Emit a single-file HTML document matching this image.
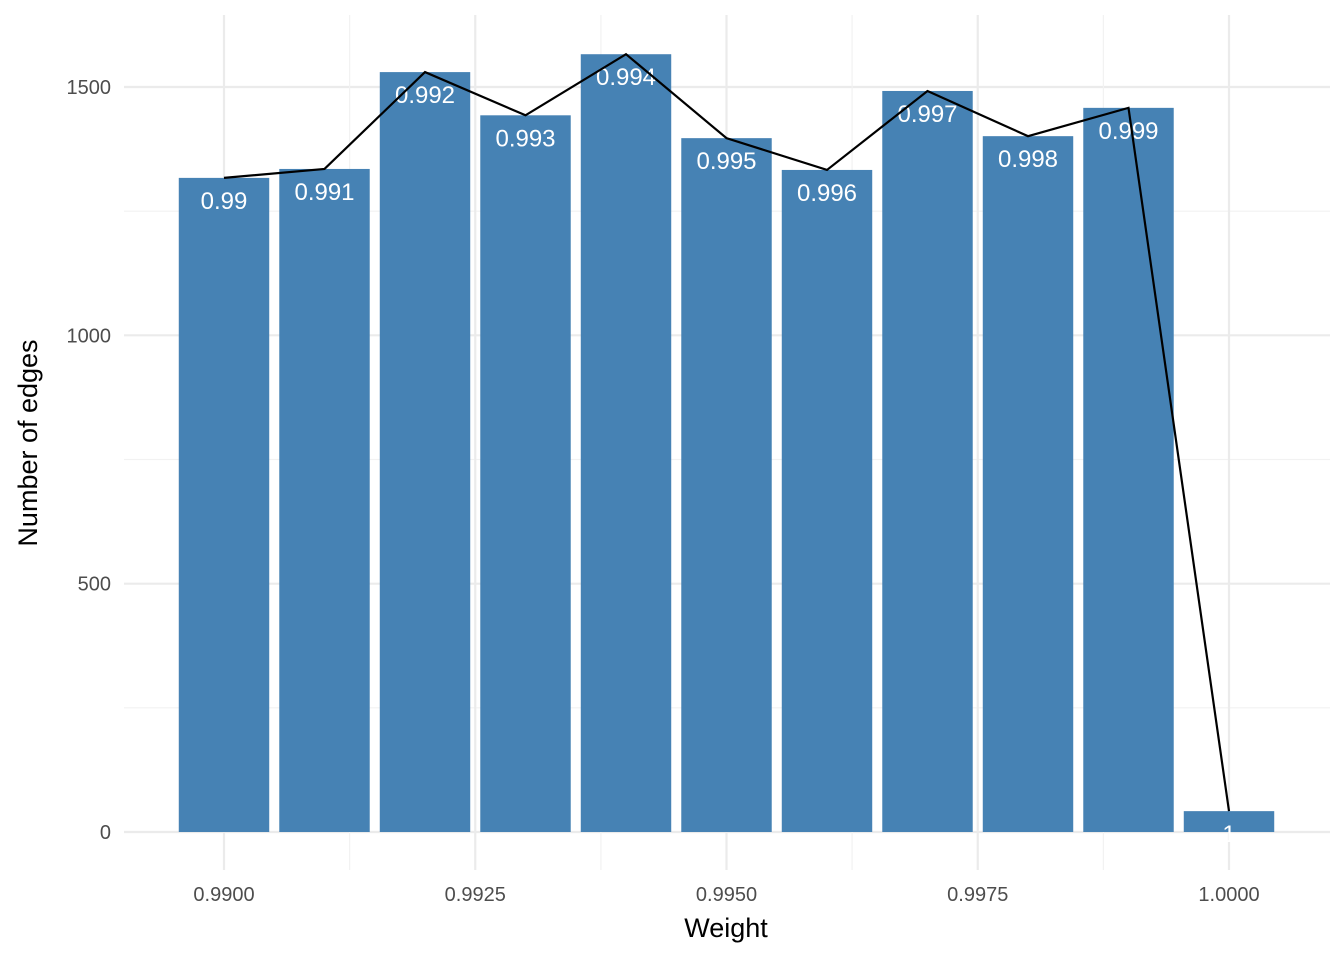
<!DOCTYPE html>
<html><head><meta charset="utf-8"><style>
body{margin:0;background:#fff}
svg{font-family:"Liberation Sans","DejaVu Sans",sans-serif}
</style></head><body>
<svg id="chart" width="1344" height="960">
<g id="grid"></g>
<g id="bars"></g>
<g id="labels"></g>
<g id="line"></g>
<g id="axes"></g>
<text x="726" y="937" text-anchor="middle" font-size="27" fill="#000">Weight</text>
<text transform="translate(37,443) rotate(-90)" text-anchor="middle" font-size="27" fill="#000">Number of edges</text>
</svg>
<script>
const categories=[0.99,0.991,0.992,0.993,0.994,0.995,0.996,0.997,0.998,0.999,1.0];
const labels=["0.99","0.991","0.992","0.993","0.994","0.995","0.996","0.997","0.998","0.999","1"];
const counts=[1317,1335,1530,1443,1566,1397,1333,1492,1401,1458,42];
const xTicks=[0.99,0.9925,0.995,0.9975,1.0];
const xTickLabels=["0.9900","0.9925","0.9950","0.9975","1.0000"];
const yTicks=[0,500,1000,1500];
const NS="http://www.w3.org/2000/svg";
const X=v=>224+(v-0.99)*100500;
const Y=v=>832-v*0.49667;
const L={l:124,r:1330,t:15,b:870};
function mk(p,t,a){const e=document.createElementNS(NS,t);for(const k in a)e.setAttribute(k,a[k]);p.appendChild(e);return e;}
const grid=document.getElementById('grid');
for(let i=0;i<yTicks.length;i++){
  const l=mk(grid,'line',{x1:L.l,x2:L.r,y1:Y(yTicks[i]),y2:Y(yTicks[i]),stroke:'#ebebeb','stroke-width':2.2});
  
  
  if(i<yTicks.length-1){const m=(yTicks[i]+yTicks[i+1])/2;
  const ml=mk(grid,'line',{x1:L.l,x2:L.r,y1:Y(m),y2:Y(m),stroke:'#f2f2f2','stroke-width':1.2});
  
  }
}
for(let i=0;i<xTicks.length;i++){
  const l=mk(grid,'line',{x1:X(xTicks[i]),x2:X(xTicks[i]),y1:L.t,y2:L.b,stroke:'#ebebeb','stroke-width':2.2});
  
  
  if(i<xTicks.length-1){const m=(xTicks[i]+xTicks[i+1])/2;
  const ml=mk(grid,'line',{x1:X(m),x2:X(m),y1:L.t,y2:L.b,stroke:'#f2f2f2','stroke-width':1.2});
  
  }
}
const bars=document.getElementById('bars'),lab=document.getElementById('labels');
const bw=0.0009*100500;
categories.forEach((c,i)=>{
  const r=mk(bars,'rect',{x:X(c)-bw/2,y:Y(counts[i]),width:bw,height:Y(0)-Y(counts[i]),fill:'#4682b4'});
  
  
  const t=mk(lab,'text',{x:X(c),y:Y(counts[i])+31,'text-anchor':'middle','font-size':24,fill:'#fff'});
  t.textContent=labels[i];
  
  
});
const pts=categories.map((c,i)=>X(c)+','+Y(counts[i])).join(' ');
const pl=mk(document.getElementById('line'),'polyline',{points:pts,fill:'none',stroke:'#000','stroke-width':2.2});


const ax=document.getElementById('axes');
yTicks.forEach(v=>{const t=mk(ax,'text',{x:111,y:Y(v)+7,'text-anchor':'end','font-size':20,fill:'#4d4d4d'});t.textContent=v;

});
xTicks.forEach((v,i)=>{const t=mk(ax,'text',{x:X(v),y:901,'text-anchor':'middle','font-size':20,fill:'#4d4d4d'});t.textContent=xTickLabels[i];

});
</script>
</body></html>
